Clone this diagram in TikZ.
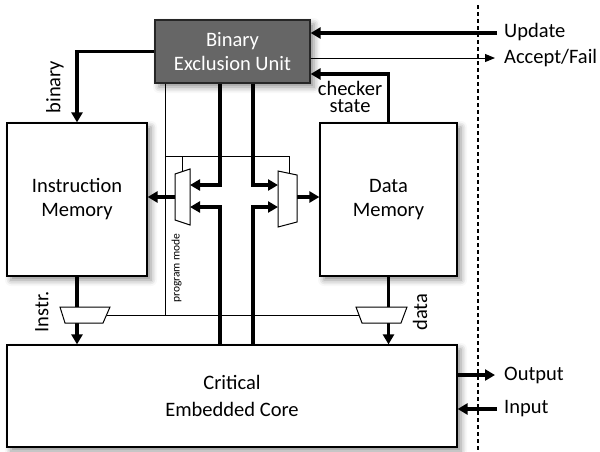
\documentclass[tikz,border=0pt]{standalone}
\usepackage{fontspec}
\setmainfont{Carlito}
\usetikzlibrary{arrows.meta,shadows.blur}
\definecolor{beugray}{HTML}{666666}

\begin{document}
\begin{tikzpicture}[x=1pt,y=-1pt,
  txt/.style={font=\fontsize{20.5}{24}\selectfont},
  box/.style={draw=black, line width=1.2pt, fill=white, align=center, inner sep=0pt, txt,
    blur shadow={shadow xshift=4pt, shadow yshift=-4pt, shadow blur radius=6pt, shadow opacity=45}},
  bus/.style={line width=3.5pt},
  busarrow/.style={bus, -{Triangle[length=10pt,width=11pt]}},
  wire/.style={line width=1pt},
  mux/.style={draw, line width=1pt, fill=white, line join=miter},
  lbl/.style={txt, inner sep=0pt},
]
\useasboundingbox (0,0) rectangle (600,451);

% system boundary
\coordinate (dashTop) at (478,5);
\coordinate (dashBot) at (478,451);
\draw[line width=1.2pt, dash pattern=on 4pt off 3pt] (dashTop) -- (dashBot);

% blocks
\node[box, fill=beugray, text=white, draw=black!85, minimum width=155pt, minimum height=63pt]
  (beu) at (232.5,51.5) {Binary\\Exclusion Unit};
\node[box, minimum width=140pt, minimum height=153pt] (im) at (77,199.5) {Instruction\\Memory};
\node[box, minimum width=137pt, minimum height=153pt] (dm) at (388.5,199.5) {Data\\Memory};
\node[box, minimum width=450pt, minimum height=102pt, font=\fontsize{20.5}{27}\selectfont]
  (core) at (232,396) {Critical\\Embedded Core};

% external interface
\coordinate (upd) at (497,33);
\coordinate (acc) at (495,58);
\coordinate (outc) at (495,375);
\coordinate (inc) at (497,409);
\draw[busarrow] (upd) -- (beu.east |- upd);
\draw[wire, -{Triangle[length=10pt,width=8pt]}] (beu.east |- acc) -- (acc);
\draw[busarrow] (core.east |- outc) -- (outc);
\draw[busarrow] (inc) -- (core.east |- inc);
\node[lbl, anchor=west] (updlbl) at (504,32) {Update};
\node[lbl, anchor=west] (acclbl) at (504,58) {Accept/Fail};
\node[lbl, anchor=west] (outlbl) at (504,375) {Output};
\node[lbl, anchor=west] (inlbl) at (504,409) {Input};

% binary image and checker state
\draw[busarrow] (beu.west) -| (im.north);
\node[lbl, rotate=90] (binlbl) at (55,87) {binary};
\coordinate (chk) at (388.5,74);
\draw[busarrow] (dm.north) -- (chk) -- (beu.east |- chk);
\node[lbl, align=center, font=\fontsize{20.5}{17}\selectfont] (chklbl) at (350,97) {checker\\state};

% program mode control
\coordinate (pm) at (165,315);
\coordinate (ctlL) at (165,156);
\coordinate (ctlR) at (289,156);
\coordinate (ctlLmux) at (182,171.7);
\coordinate (ctlRmux) at (289,173);
\draw[wire] (beu.south -| pm) -- (pm);
\draw[wire] (ctlL) -- (ctlR) -- (ctlRmux);
\draw[wire] (ctlL -| ctlLmux) -- (ctlLmux);
\node[font=\fontsize{11.5}{12}\selectfont, rotate=90, inner sep=0pt] (pmlbl) at (176.5,268) {program mode};

% buses between the unit, the memories and the core
\coordinate (lbusA) at (220,185);
\coordinate (lbusB) at (220,207);
\coordinate (rbusA) at (253,185);
\coordinate (rbusB) at (253,207);
\coordinate (lmuxA) at (190,185);
\coordinate (lmuxB) at (190,207);
\coordinate (rmuxA) at (278,185);
\coordinate (rmuxB) at (278,207);
\draw[busarrow] (beu.south -| lbusA) -- (lbusA) -- (lmuxA);
\draw[busarrow] (core.north -| lbusB) -- (lbusB) -- (lmuxB);
\draw[busarrow] (beu.south -| rbusA) -- (rbusA) -- (rmuxA);
\draw[busarrow] (core.north -| rbusB) -- (rbusB) -- (rmuxB);

\coordinate (lmuxout) at (175,197);
\coordinate (rmuxout) at (297,197);
\draw[busarrow] (lmuxout) -- (im.east |- lmuxout);
\draw[busarrow] (rmuxout) -- (dm.west |- rmuxout);

% memory outputs to the core
\coordinate (imuxin) at (77,307);
\coordinate (imuxout) at (77,323);
\coordinate (dmuxin) at (388.5,307);
\coordinate (dmuxout) at (388.5,323);
\draw[bus] (im.south) -- (imuxin);
\draw[busarrow] (imuxout) -- (core.north -| imuxout);
\draw[bus] (dm.south) -- (dmuxin);
\draw[busarrow] (dmuxout) -- (core.north -| dmuxout);
\coordinate (imuxsel) at (106.5,315);
\coordinate (dmuxsel) at (359,315);
\draw[wire] (imuxsel) -- (dmuxsel);
\node[lbl, rotate=90] (instrlbl) at (42,312) {Instr.};
\node[lbl, rotate=90] (datalbl) at (420,312) {data};

% multiplexers
\draw[mux] (175,174) -- (190,169) -- (190,225) -- (175,220) -- cycle;
\draw[mux] (278,171) -- (297,175) -- (297,222) -- (278,227) -- cycle;
\draw[mux] (60,307) -- (110,307) -- (103,323) -- (65,323) -- cycle;
\draw[mux] (356,307) -- (407,307) -- (401,323) -- (362,323) -- cycle;
\end{tikzpicture}
\end{document}
